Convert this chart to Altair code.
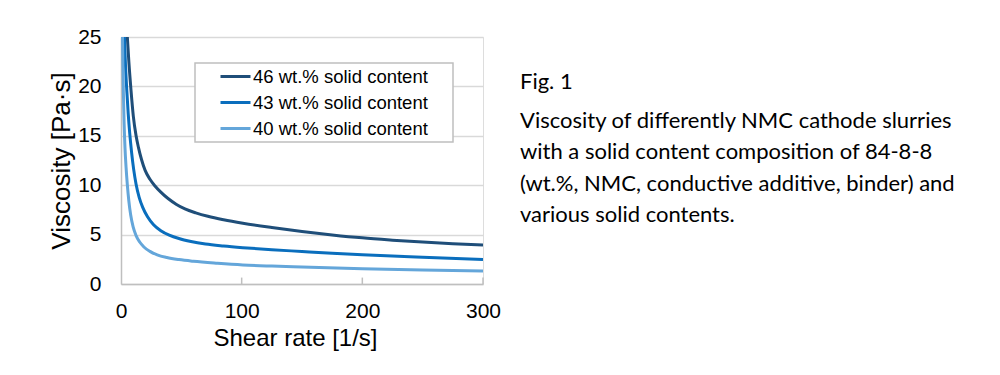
import altair as alt
import pandas as pd

series_names = ["46 wt.% solid content", "43 wt.% solid content", "40 wt.% solid content"]
series_colors = ["#1f4e79", "#0a6ebd", "#64a6da"]

shear_46 = [5.0, 6.5, 8.3, 10.2, 12.5, 14.5, 17, 20, 24, 28, 33, 39, 46, 53, 62, 72, 85, 101, 125, 150, 175, 200, 225, 250, 275, 300]
visc_46 = [25.5, 22.5, 19.6, 17.0, 15.0, 13.8, 12.6, 11.5, 10.6, 9.95, 9.3, 8.65, 8.05, 7.6, 7.2, 6.85, 6.5, 6.15, 5.72, 5.32, 4.97, 4.67, 4.44, 4.24, 4.08, 3.95]

shear_43 = [2.7, 3.7, 4.8, 6.0, 7.2, 8.8, 10.5, 12.5, 15, 18, 22, 27, 33, 40, 48, 58, 70, 85, 101, 125, 150, 175, 200, 250, 300]
visc_43 = [25.5, 22.2, 19.6, 17.2, 15.3, 13.3, 11.6, 10.1, 8.8, 7.75, 6.8, 6.0, 5.4, 4.95, 4.6, 4.3, 4.05, 3.85, 3.68, 3.47, 3.29, 3.11, 2.95, 2.7, 2.48]

shear_40 = [1.2, 1.6, 2.0, 2.6, 3.3, 4.2, 5.2, 6.5, 8.0, 10, 12.5, 15.5, 19, 24, 30, 38, 48, 60, 80, 101, 125, 150, 200, 250, 300]
visc_40 = [25.5, 22.0, 19.3, 16.2, 13.8, 11.8, 10.1, 8.4, 7.0, 5.8, 4.9, 4.25, 3.75, 3.3, 2.95, 2.68, 2.47, 2.3, 2.1, 1.93, 1.81, 1.71, 1.54, 1.42, 1.32]

x_ticks = [0, 100, 200, 300]
y_ticks = [0, 5, 10, 15, 20, 25]
inner_ticks = [100, 200, 300]

caption_head = "Fig. 1"
caption_lines = [
    "Viscosity of differently NMC cathode slurries",
    "with a solid content composition of 84-8-8",
    "(wt.%, NMC, conductive additive, binder) and",
    "various solid contents.",
]

rows = []
for name, xs, ys in [(series_names[0], shear_46, visc_46),
                     (series_names[1], shear_43, visc_43),
                     (series_names[2], shear_40, visc_40)]:
    for i, (a, b) in enumerate(zip(xs, ys)):
        rows.append({"series": name, "shear": a, "visc": b, "order": i})
df = pd.DataFrame(rows)

AXFONT = "Liberation Sans"

x_enc = alt.X("shear:Q", scale=alt.Scale(domain=[0, 300], nice=False),
              axis=alt.Axis(values=x_ticks, grid=False, ticks=False, domainColor="#bfbfbf",
                            domainWidth=1.5, labelFontSize=21, labelFont=AXFONT, labelColor="#000000",
                            labelPadding=16, labelFlush=False, title="Shear rate [1/s]",
                            titleFontSize=24, titleFont=AXFONT, titleFontWeight="normal",
                            titleColor="#000000", titlePadding=5, titleX=174))
y_enc = alt.Y("visc:Q", scale=alt.Scale(domain=[0, 25], nice=False),
              axis=alt.Axis(values=y_ticks, grid=True, gridColor="#d9d9d9", gridWidth=1.5,
                            ticks=False, domainColor="#bfbfbf", domainWidth=1.5,
                            labelFontSize=21, labelFont=AXFONT, labelColor="#000000",
                            labelPadding=20, title="Viscosity [Pa·s]", titleFontSize=26,
                            titleFont=AXFONT, titleFontWeight="normal", titleColor="#000000",
                            titlePadding=3))

frame = alt.Chart(pd.DataFrame({"k": [0]})).mark_rect(
    fill="white", stroke="#bfbfbf", strokeWidth=1.5
).encode(x=alt.value(74), x2=alt.value(332), y=alt.value(26), y2=alt.value(105))

lines = alt.Chart(df).mark_line(strokeWidth=3, clip=True, interpolate="monotone").encode(
    x=x_enc, y=y_enc,
    order="order:Q",
    color=alt.Color("series:N",
                    scale=alt.Scale(domain=series_names, range=series_colors),
                    legend=alt.Legend(orient="none", legendX=98, legendY=23, title=None,
                                      symbolType="stroke", symbolSize=900, symbolStrokeWidth=3,
                                      labelFontSize=18.5, labelFont=AXFONT, labelColor="#000000",
                                      labelOffset=1, rowPadding=-3.5, padding=0, labelLimit=400)),
)

ticks = alt.Chart(pd.DataFrame({"t": inner_ticks})).mark_rule(color="#bfbfbf", strokeWidth=1.5).encode(
    x="t:Q", y=alt.datum(0), y2=alt.datum(0.65)
)

head = alt.Chart(pd.DataFrame({"k": [0]})).mark_text(
    align="left", baseline="alphabetic", font="Lato", fontSize=22, color="#000000"
).encode(x=alt.value(399), y=alt.value(52), text=alt.value(caption_head))

body = alt.Chart(pd.DataFrame({"k": [0]})).mark_text(
    align="left", baseline="alphabetic", font="Lato", fontSize=22, color="#000000", lineHeight=31.3
).encode(x=alt.value(399), y=alt.value(91), text=alt.value(caption_lines))

chart = alt.layer(frame, lines, ticks, head, body).properties(
    width=362, height=247,
    autosize=alt.AutoSizeParams(type="none"),
    padding={"left": 113, "top": 29, "right": 500, "bottom": 80},
).configure_view(stroke="#d9d9d9", strokeWidth=1.5).configure(background="white")

chart.save("out.html", embed_options={"renderer": "svg", "actions": False})
